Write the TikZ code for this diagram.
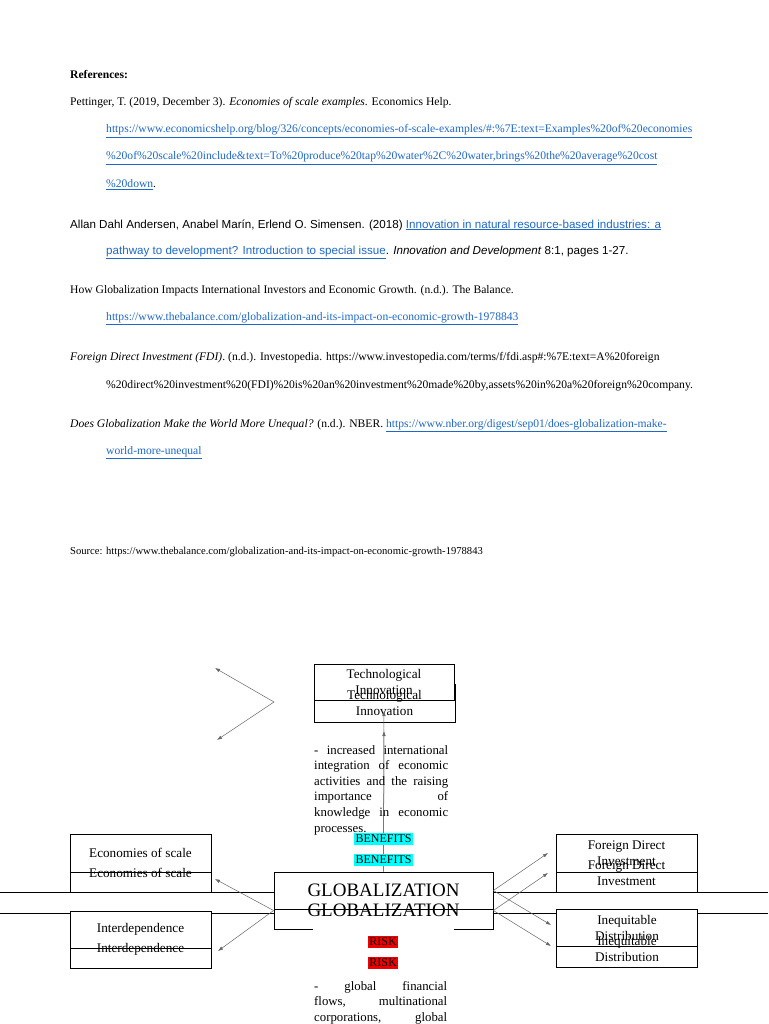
\documentclass[tikz,border=0pt]{standalone}
\usepackage{fontspec}
\setmainfont{Liberation Serif}
\newfontfamily\arialfont{Liberation Sans}
\usetikzlibrary{arrows.meta}
\definecolor{linkblue}{RGB}{30,105,200}
\definecolor{hlcyan}{RGB}{0,255,255}
\definecolor{hlred}{RGB}{238,0,0}
\newcommand{\lnk}[1]{\textcolor{linkblue}{\underline{#1}}}
\newcommand{\jline}[2][134pt]{\leavevmode\hbox to #1{\spaceskip=0.25em plus 1fil\relax #2}}
\tikzset{
  refline/.style={anchor=west, inner sep=0pt, font=\fontsize{11.6}{14}\selectfont},
  sidebox/.style={draw, fill=white, line width=0.8pt, minimum width=141pt, minimum height=38pt, inner sep=0pt},
  boxlabel/.style={align=center, inner sep=0pt, font=\fontsize{13.2}{16}\selectfont},
  paratext/.style={anchor=north west, inner sep=0pt, text width=134pt, align=left, font=\fontsize{12.8}{15.6}\selectfont},
  hilite/.style={inner sep=1.5pt, font=\fontsize{12}{14}\selectfont},
  arr/.style={draw=black!60, line width=0.5pt, -{Latex[length=5pt,width=3.5pt]}},
  hline/.style={draw, line width=0.8pt}
}
\begin{document}
\begin{tikzpicture}[x=1pt,y=-1pt]
    \useasboundingbox[fill=white] (0,0) rectangle (768,1024);

    % References
    \node[refline, font=\fontsize{11.6}{14}\selectfont\bfseries] (refhead) at (70,75) {References:};
    \node[refline] (ref1) at (70,103) {Pettinger, T. (2019, December 3). \textit{Economies of scale examples}. Economics Help.};
    \node[refline] (ref1a) at (106,131) {\lnk{https://www.economicshelp.org/blog/326/concepts/economies-of-scale-examples/\#:\%7E:text=Examples\%20of\%20economies}};
    \node[refline] (ref1b) at (106,158) {\lnk{\%20of\%20scale\%20include\&text=To\%20produce\%20tap\%20water\%2C\%20water,brings\%20the\%20average\%20cost}};
    \node[refline] (ref1c) at (106,185) {\lnk{\%20down}.};
    \node[refline, font=\arialfont\fontsize{11.6}{14}\selectfont] (ref2) at (70,225) {Allan Dahl Andersen, Anabel Marín, Erlend O. Simensen. (2018) \lnk{Innovation in natural resource-based industries: a}};
    \node[refline, font=\arialfont\fontsize{11.6}{14}\selectfont] (ref2a) at (106,252) {\lnk{pathway to development? Introduction to special issue}. \textit{Innovation and Development} 8:1, pages 1-27.};
    \node[refline] (ref3) at (70,291) {How Globalization Impacts International Investors and Economic Growth. (n.d.). The Balance.};
    \node[refline] (ref3a) at (106,319) {\lnk{https://www.thebalance.com/globalization-and-its-impact-on-economic-growth-1978843}};
    \node[refline] (ref4) at (70,358) {\textit{Foreign Direct Investment (FDI)}. (n.d.). Investopedia. https://www.investopedia.com/terms/f/fdi.asp\#:\%7E:text=A\%20foreign};
    \node[refline] (ref4a) at (106,386) {\%20direct\%20investment\%20(FDI)\%20is\%20an\%20investment\%20made\%20by,assets\%20in\%20a\%20foreign\%20company.};
    \node[refline] (ref5) at (70,426) {\textit{Does Globalization Make the World More Unequal?} (n.d.). NBER. \lnk{https://www.nber.org/digest/sep01/does-globalization-make-}};
    \node[refline] (ref5a) at (106,453) {\lnk{world-more-unequal}};
    \node[refline, font=\fontsize{10.6}{12}\selectfont] (source) at (70,552) {Source: https://www.thebalance.com/globalization-and-its-impact-on-economic-growth-1978843};

    % Long horizontal lines
    \coordinate (lineAw) at (0,892);
    \coordinate (lineAe) at (768,892);
    \coordinate (lineBw) at (0,913);
    \coordinate (lineBe) at (768,913);
    \draw[hline] (lineAw) -- (lineAe);
    \draw[hline] (lineBw) -- (lineBe);

    % Boxes (second copy first, first copy on top)
    \node[sidebox] (techB) at (384.5,703) {};
    \node[sidebox, minimum width=140pt, minimum height=36pt] (techA) at (384,682) {};
    \node[sidebox] (econB) at (140.5,873) {};
    \node[sidebox] (econA) at (140.5,853) {};
    \node[sidebox] (fdiB) at (626.5,873) {};
    \node[sidebox] (fdiA) at (626.5,853) {};
    \node[sidebox, minimum height=37pt] (interB) at (140.5,949.5) {};
    \node[sidebox, minimum height=37pt] (interA) at (140.5,929.5) {};
    \node[sidebox, minimum height=37pt] (ineqB) at (627,948.5) {};
    \node[sidebox, minimum height=37pt] (ineqA) at (627,928) {};
    \node[sidebox, minimum width=219pt, minimum height=37pt] (globB) at (383.5,910.5) {};
    \node[sidebox, minimum width=219pt, minimum height=37pt] (globA) at (383.5,890.5) {};
    \path[fill=white] (313,927) rectangle (454,932);

    % Box texts
    \node[boxlabel] (techBtxt) at (techB) {Technological\\Innovation};
    \node[boxlabel] (techAtxt) at (techA) {Technological\\Innovation};
    \node[boxlabel] (econBtxt) at (econB) {Economies of scale};
    \node[boxlabel] (econAtxt) at (econA) {Economies of scale};
    \node[boxlabel] (fdiBtxt) at (fdiB) {Foreign Direct\\Investment};
    \node[boxlabel] (fdiAtxt) at (fdiA) {Foreign Direct\\Investment};
    \node[boxlabel] (interBtxt) at (interB) {Interdependence};
    \node[boxlabel] (interAtxt) at (interA) {Interdependence};
    \node[boxlabel] (ineqBtxt) at (ineqB) {Inequitable\\Distribution};
    \node[boxlabel] (ineqAtxt) at (ineqA) {Inequitable\\Distribution};
    \node[boxlabel, font=\fontsize{19}{22}\selectfont] (globBtxt) at (globB) {GLOBALIZATION};
    \node[boxlabel, font=\fontsize{19}{22}\selectfont] (globAtxt) at (globA) {GLOBALIZATION};

    % Arrow ends
    \coordinate (tipTopA) at (215,668);
    \coordinate (tipBotA) at (217,740);
    \coordinate (tailA) at (274,702);
    \coordinate (tipEcon) at (215,879);
    \coordinate (tipInter) at (218,951);
    \coordinate (tipFdiA) at (548,853);
    \coordinate (tipFdiB) at (548,873);
    \coordinate (tipIneqA) at (551,925);
    \coordinate (tipIneqB) at (551,946);
    \coordinate (tipTechA) at (384,711);
    \coordinate (tipTechB) at (384,731);

    % Arrows
    \draw[arr] (tailA) -- (tipTopA);
    \draw[arr] (tailA) -- (tipBotA);
    \draw[arr] (globB.west) -- (tipEcon);
    \draw[arr] (globB.west) -- (tipInter);
    \draw[arr] (globA.east) -- (tipFdiA);
    \draw[arr] (globA.east) -- (tipIneqA);
    \draw[arr] (globB.east) -- (tipFdiB);
    \draw[arr] (globB.east) -- (tipIneqB);
    \draw[arr] (globA.north) -- (tipTechA);
    \draw[arr] (globA.north) -- (tipTechB);

    % Benefits and risks
    \node[paratext] (benefitTxt) at (314,745) {%
      \jline{- increased international}\\
      \jline{integration of economic}\\
      \jline{activities and the raising}\\
      \jline{importance of}\\
      \jline{knowledge in economic}\\
      processes.};
    \node[hilite, fill=hlcyan] (benefitA) at (383.5,839) {BENEFITS};
    \node[hilite, fill=hlcyan] (benefitB) at (383.5,860) {BENEFITS};
    \node[hilite, fill=hlred] (riskA) at (383,942) {RISK};
    \node[hilite, fill=hlred] (riskB) at (383,963) {RISK};
    \node[paratext, text width=133pt] (riskTxt) at (314,981) {%
      \jline[133pt]{- global financial}\\
      \jline[133pt]{flows, multinational}\\
      \jline[133pt]{corporations, global}};
\end{tikzpicture}
\end{document}
